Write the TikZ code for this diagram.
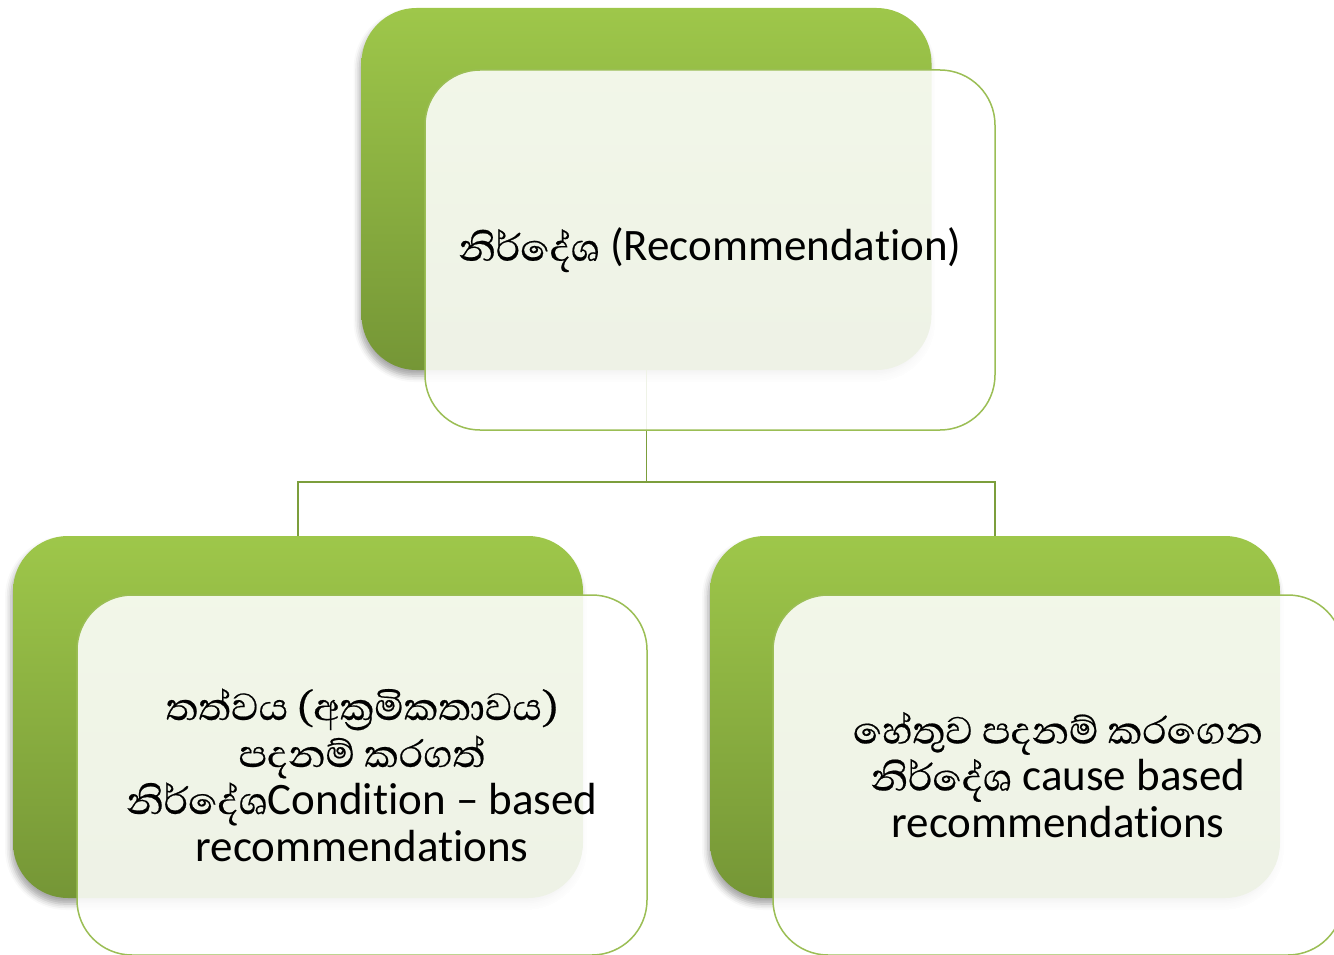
\documentclass[tikz,border=0pt]{standalone}
\usepackage{fontspec}
\setmainfont{Carlito}[Ligatures={NoCommon}]
\newfontfamily\sinhfont[Script=Sinhala, Scale=1.08, FakeBold=0.4]{Abhaya Libre}
\usetikzlibrary{shadows.blur}
\definecolor{gtop}{RGB}{158,199,74}
\definecolor{gbot}{RGB}{117,150,54}
\definecolor{edgegreen}{RGB}{155,190,85}
\definecolor{conngreen}{RGB}{124,158,60}

\begin{document}
\begin{tikzpicture}[x=1pt,y=-1pt,
  greenbox/.style={rounded corners=55pt, shading=axis, top color=gtop,
    bottom color=gbot, minimum width=570pt, minimum height=362pt, inner sep=0pt,
    blur shadow={shadow xshift=-2pt, shadow yshift=-6pt,
      shadow blur radius=6pt, shadow opacity=35}},
  veilbox/.style={rounded corners=55pt, draw=edgegreen, line width=1.5pt,
    fill=white, fill opacity=0.88, text opacity=1, minimum width=570pt,
    minimum height=360pt, inner sep=0pt, align=center,
    font=\fontsize{45}{47}\selectfont},
  link/.style={draw=conngreen, line width=1.5pt}]
\useasboundingbox (0,0) rectangle (1334,955);
\clip (0,0) rectangle (1334,955);

% coloured back plates
\node[greenbox] (g1) at (646.5,189) {};
\node[greenbox] (g2) at (298,717) {};
\node[greenbox] (g3) at (995,717) {};

% tree connectors
\coordinate (hub) at (646.5,482);
\path[link] (g1.south) -- (hub);
\path[link] (hub) -| (g2.north);
\path[link] (hub) -| (g3.north);

% translucent text cards
\node[veilbox] (c1) at (710,250) {{\sinhfont නිර්දේශ} (Recommendation)};
\node[veilbox] (c2) at (362,775) {{\sinhfont තත්වය (අක්^^^^200dරමිකතාවය)}\\
  {\sinhfont පදනම් කරගත්}\\
  {\sinhfont නිර්දේශ}Condition – based\\
  recommendations};
\node[veilbox] (c3) at (1058,775) {{\sinhfont හේතුව පදනම් කරගෙන}\\
  {\sinhfont නිර්දේශ} cause based\\
  recommendations};
\end{tikzpicture}
\end{document}
